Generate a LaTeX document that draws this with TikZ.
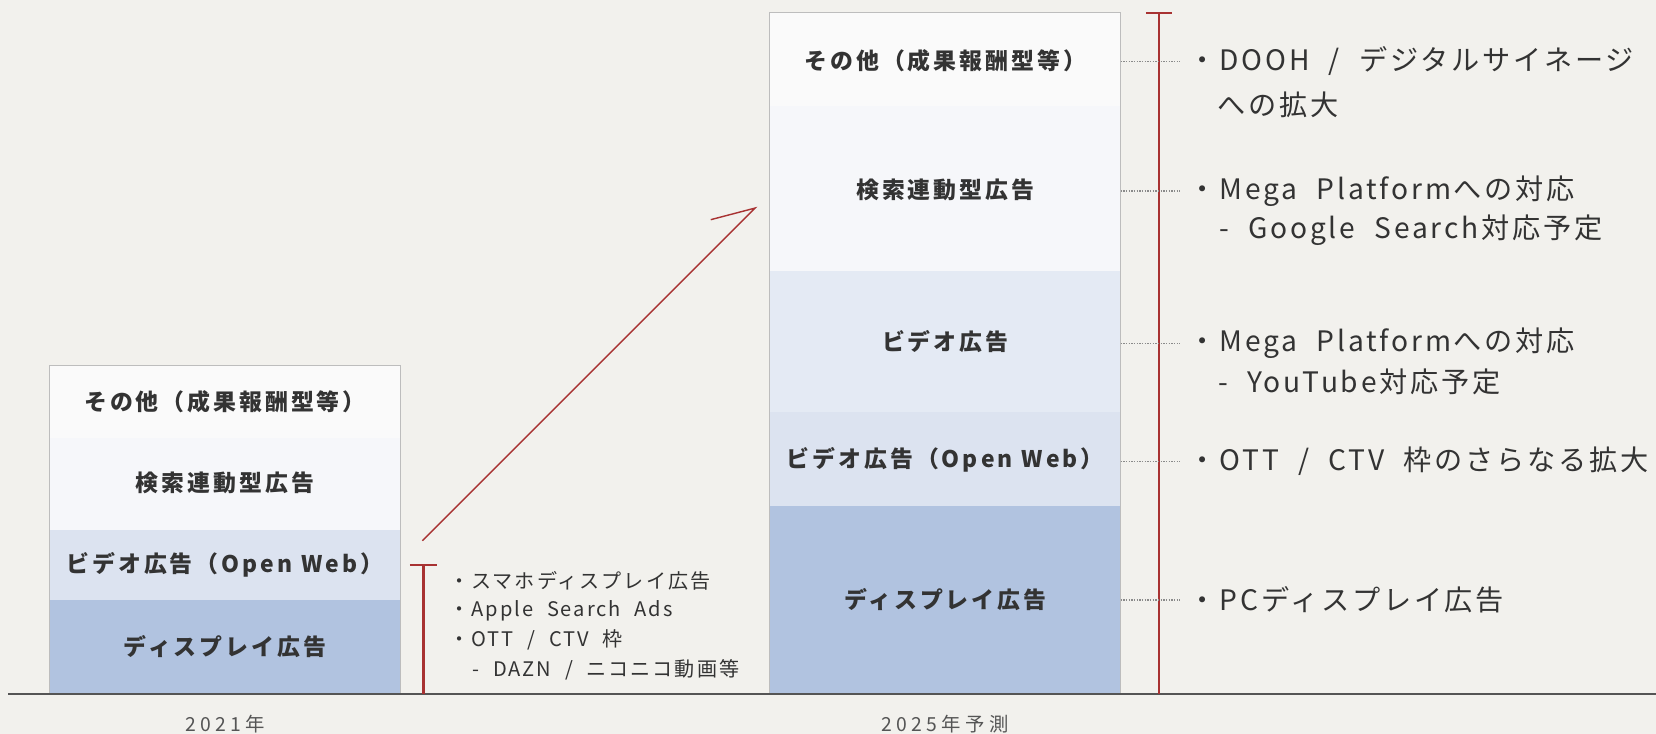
\documentclass[tikz,border=0pt]{standalone}
\usepackage{fontspec}
\setmainfont{Noto Sans CJK JP}
\newfontfamily\barfont[LetterSpace=13,WordSpace=1.1]{Noto Sans CJK JP}
\newfontfamily\notefont[LetterSpace=10,WordSpace=2.1]{Noto Sans CJK JP}
\newfontfamily\yearfont[LetterSpace=22]{Noto Sans CJK JP}

\definecolor{bgcol}{HTML}{F2F1ED}
\definecolor{bandA}{HTML}{FAFAFA}
\definecolor{bandB}{HTML}{F6F7FA}
\definecolor{bandC}{HTML}{E4EAF4}
\definecolor{bandD}{HTML}{DCE3F0}
\definecolor{bandE}{HTML}{B1C3E0}
\definecolor{barline}{HTML}{BDBDBD}
\definecolor{txt}{HTML}{333333}
\definecolor{yeartxt}{HTML}{555555}
\definecolor{dotgrey}{HTML}{8A8A8A}
\definecolor{darkred}{HTML}{A83232}

\tikzset{every picture/.style={line width=0.75pt}}
\tikzset{
  barlbl/.style={inner sep=0.75pt, text=txt, font=\barfont\bfseries\fontsize{16.25}{18}\selectfont},
  note/.style={anchor=west, inner sep=0.75pt, text=txt, font=\notefont\fontsize{20}{22}\selectfont},
  smallnote/.style={anchor=west, inner sep=0.75pt, text=txt, font=\notefont\fontsize{14.25}{16}\selectfont},
  yearlbl/.style={inner sep=0.75pt, text=yeartxt, font=\yearfont\fontsize{13.75}{15}\selectfont},
  leader/.style={draw=dotgrey, line width=1pt, dash pattern=on 1pt off 0.9pt, shorten >=5pt},
  redline/.style={draw=darkred, line width=1.5pt},
  growline/.style={draw=darkred, line width=1pt},
}

\begin{document}
\begin{tikzpicture}[x=0.75pt,y=0.75pt,yscale=-1,xscale=1]
%set diagram size: 1568 x 695
\useasboundingbox (0,0) rectangle (1568,695);
\fill [bgcol] (0,0) rectangle (1568,695);

%Shape: Rectangle [2021 bar]
\fill [bandA] (47,346) rectangle (379,415);
\fill [bandB] (47,415) rectangle (379,502);
\fill [bandD] (47,502) rectangle (379,568);
\fill [bandE] (47,568) rectangle (379,657);
\draw [barline] (47,657) -- (47,346) -- (379,346) -- (379,657);

%Shape: Rectangle [2025 bar]
\fill [bandA] (729,12) rectangle (1061,100);
\fill [bandB] (729,100) rectangle (1061,257);
\fill [bandC] (729,257) rectangle (1061,390);
\fill [bandD] (729,390) rectangle (1061,479);
\fill [bandE] (729,479) rectangle (1061,657);
\draw [barline] (729,657) -- (729,12) -- (1061,12) -- (1061,657);

%Straight Lines [baseline]
\draw [color=yeartxt, line width=1.1pt] (8,657) -- (1568,657);

% Text Node [2021 bar labels]
\draw (213,380) node [barlbl] (a1) {その他（成果報酬型等）};
\draw (213,457) node [barlbl] (a2) {検索連動型広告};
\draw (213,535) node [barlbl] (a3) {ビデオ広告（Open Web）};
\draw (213,612) node [barlbl] (a4) {ディスプレイ広告};

% Text Node [2025 bar labels]
\draw (895,58) node [barlbl] (b1) {その他（成果報酬型等）};
\draw (895,180) node [barlbl] (b2) {検索連動型広告};
\draw (895,323) node [barlbl] (b3) {ビデオ広告};
\draw (895,435) node [barlbl] (b4) {ビデオ広告（Open Web）};
\draw (895,568) node [barlbl] (b5) {ディスプレイ広告};

% Text Node [years]
\draw (213,686) node [yearlbl] (y1) {2021年};
\draw (895,686) node [yearlbl] (y2) {2025年予測};

%Straight Lines [red brackets]
\coordinate (lt) at (401,535);
\coordinate (lb) at (401,657);
\coordinate (rt) at (1097,12);
\coordinate (rb) at (1097,657);
\draw [redline] (lb) -- (lt);
\draw [redline] ([xshift=-13*0.75pt]lt) -- ([xshift=13*0.75pt]lt);
\draw [redline] (rb) -- (rt);
\draw [redline] ([xshift=-12*0.75pt]rt) -- ([xshift=13*0.75pt]rt);

%Straight Lines [growth arrow]
\coordinate (g0) at (400,512);
\coordinate (g1) at (715,197);
\coordinate (g2) at (673,208);
\draw [growline] (g0) -- (g1) -- (g2);

% Text Node [2021 notes]
\draw (424,550) node [smallnote] (s1) {・スマホディスプレイ広告};
\draw (424,578) node [smallnote] (s2) {・Apple Search Ads};
\draw (424,606) node [smallnote] (s3) {・OTT / CTV 枠};
\draw (446,634) node [smallnote] (s4) {- DAZN / ニコニコ動画等};

% Text Node [2025 notes]
\draw (1124,58) node [note] (r1) {・DOOH / デジタルサイネージ};
\draw (1151,99) node [note] (r1b) {への拡大};
\draw (1124,181) node [note] (r2) {・Mega Platformへの対応};
\draw (1153,218) node [note] (r2b) {- Google Search対応予定};
\draw (1124,325) node [note] (r3) {・Mega Platformへの対応};
\draw (1152,362) node [note] (r3b) {-\ YouTube対応予定};
\draw (1124,437) node [note] (r4) {・OTT / CTV 枠のさらなる拡大};
\draw (1124,568) node [note] (r5) {・PCディスプレイ広告};

%Dotted leaders
\foreach \i/\y in {1/58,2/181,3/325,4/437,5/568}{
  \coordinate (e\i) at (1061,\y);
  \draw [leader] (e\i) -- (e\i -| r\i.west);
}

\end{tikzpicture}
\end{document}
